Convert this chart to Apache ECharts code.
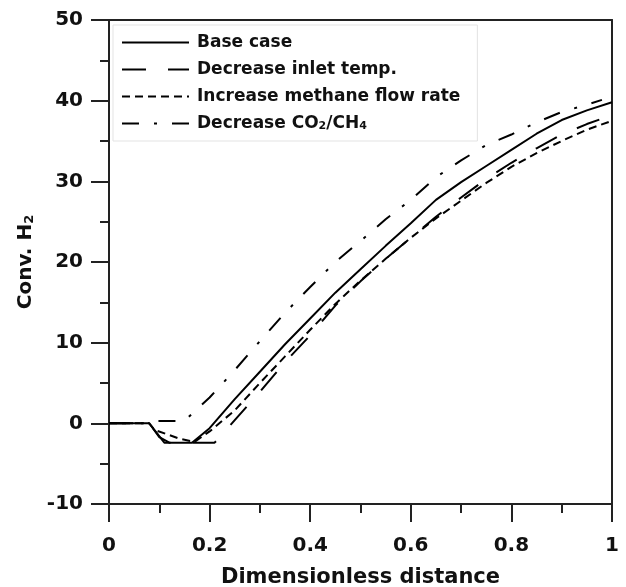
<!DOCTYPE html>
<html><head><meta charset="utf-8">
<script src="https://cdn.jsdelivr.net/npm/echarts@6/dist/echarts.min.js"></script>
<style>html,body{margin:0;padding:0;background:#fff}#c{width:626px;height:587px}</style>
</head><body><div id="c"></div>
<script>
const xTicks = [0, 0.2, 0.4, 0.6, 0.8, 1];
const yTicks = [-10, 0, 10, 20, 30, 40, 50];
const seriesNames = ['Base case', 'Decrease inlet temp.', 'Increase methane flow rate', 'Decrease CO2/CH4'];

const baseCase = [[0,0],[0.08,0],[0.11,-2.4],[0.165,-2.4],[0.2,-0.6],[0.25,3.0],[0.3,6.4],[0.35,9.8],[0.4,13.0],[0.45,16.2],[0.5,19.1],[0.55,22.0],[0.6,24.8],[0.65,27.7],[0.7,29.9],[0.75,31.9],[0.8,33.9],[0.85,35.9],[0.9,37.6],[0.95,38.8],[1,39.8]];
const inletTemp = [[0,0],[0.08,0],[0.1,-1.7],[0.12,-2.4],[0.21,-2.4],[0.25,0.4],[0.3,3.9],[0.35,7.6],[0.4,10.9],[0.45,14.6],[0.5,17.6],[0.55,20.4],[0.6,23.0],[0.65,25.6],[0.7,28.0],[0.75,30.3],[0.8,32.3],[0.85,34.1],[0.9,35.8],[0.95,37.1],[1,38.2]];
const methaneFlow = [[0,0],[0.08,0],[0.09,-0.8],[0.14,-1.9],[0.17,-2.3],[0.2,-1.0],[0.25,1.6],[0.3,5.0],[0.35,8.3],[0.4,11.6],[0.45,14.8],[0.5,17.7],[0.55,20.4],[0.6,23.0],[0.65,25.4],[0.7,27.6],[0.75,29.8],[0.8,31.8],[0.85,33.5],[0.9,35.0],[0.95,36.4],[1,37.5]];
const co2ch4 = [[0,0],[0.08,0],[0.09,0.3],[0.15,0.3],[0.2,3.2],[0.25,6.6],[0.3,10.2],[0.35,13.7],[0.4,16.9],[0.45,20.0],[0.5,22.6],[0.55,25.3],[0.6,27.7],[0.65,30.5],[0.7,32.6],[0.75,34.5],[0.8,35.8],[0.85,37.3],[0.9,38.6],[0.95,39.5],[0.98,40.1]];

const font = 'DejaVu Sans, Verdana, sans-serif';
const chart = echarts.init(document.getElementById('c'), null, {renderer: 'canvas'});
const axisCol = '#222';
function mk(name, data, dash) {
  return {
    name: name, type: 'line', data: data, symbol: 'none', smooth: false,
    lineStyle: {color: '#000', width: 2, type: dash},
    itemStyle: {color: '#000'}
  };
}
chart.setOption({
  animation: false,
  backgroundColor: '#fff',
  grid: {left: 109, right: 14, top: 20, bottom: 83, containLabel: false, outerBoundsMode: 'none'},
  legend: {
    orient: 'vertical', left: 113, top: 25,
    padding: [9, 17, 9, 8],
    itemGap: 10, itemWidth: 67, itemHeight: 14,
    borderColor: '#e3e3e3', borderWidth: 1,
    backgroundColor: '#fff',
    itemStyle: {opacity: 0},
    textStyle: {fontFamily: font, fontWeight: 'bold', fontSize: 17, lineHeight: 17, color: '#111',
      padding: [0, 0, 0, 3],
      rich: {sub: {fontFamily: font, fontSize: 11, fontWeight: 'bold', verticalAlign: 'bottom', padding: [7,0,0,0]}}},
    formatter: function (n) { return n === 'Decrease CO2/CH4' ? 'Decrease CO{sub|2}/CH{sub|4}' : n; },
    data: seriesNames.map(n => ({name: n}))
  },
  xAxis: [{
    type: 'value', min: xTicks[0], max: xTicks[xTicks.length-1], interval: 0.2,
    name: 'Dimensionless distance', nameLocation: 'middle', nameGap: 63,
    nameTextStyle: {fontFamily: font, fontWeight: 'bold', fontSize: 21, color: '#111'},
    axisLine: {show: true, onZero: false, lineStyle: {color: axisCol, width: 2}},
    axisTick: {show: true, inside: false, length: 18, lineStyle: {color: axisCol, width: 2}},
    minorTick: {show: true, splitNumber: 2, length: 9, lineStyle: {color: axisCol, width: 2}},
    splitLine: {show: false},
    axisLabel: {margin: 32, fontFamily: font, fontWeight: 'bold', fontSize: 20, color: '#111',
      formatter: v => String(v)}
  }, {
    type: 'value', position: 'top', min: 0, max: 1,
    axisLine: {show: true, onZero: false, lineStyle: {color: axisCol, width: 2}},
    axisTick: {show: false}, axisLabel: {show: false}, splitLine: {show: false}
  }],
  yAxis: [{
    type: 'value', min: yTicks[0], max: yTicks[yTicks.length-1], interval: 10,
    name: 'Conv. H{sub|2}', nameLocation: 'middle', nameGap: 72,
    nameTextStyle: {fontFamily: font, fontWeight: 'bold', fontSize: 20, color: '#111',
      rich: {sub: {fontFamily: font, fontSize: 13, fontWeight: 'bold', verticalAlign: 'bottom', padding: [8,0,0,0]}}},
    axisLine: {show: true, onZero: false, lineStyle: {color: axisCol, width: 2}},
    axisTick: {show: true, inside: false, length: 18, lineStyle: {color: axisCol, width: 2}},
    minorTick: {show: true, splitNumber: 2, length: 9, lineStyle: {color: axisCol, width: 2}},
    splitLine: {show: false},
    axisLabel: {margin: 26, fontFamily: font, fontWeight: 'bold', fontSize: 20, color: '#111'}
  }, {
    type: 'value', position: 'right', min: -10, max: 50,
    axisLine: {show: true, onZero: false, lineStyle: {color: axisCol, width: 2}},
    axisTick: {show: false}, axisLabel: {show: false}, splitLine: {show: false}
  }],
  series: [
    mk(seriesNames[0], baseCase, 'solid'),
    mk(seriesNames[1], inletTemp, [24, 22]),
    mk(seriesNames[2], methaneFlow, [8, 5]),
    mk(seriesNames[3], co2ch4, [17, 15, 3, 15])
  ]
});
</script></body></html>
